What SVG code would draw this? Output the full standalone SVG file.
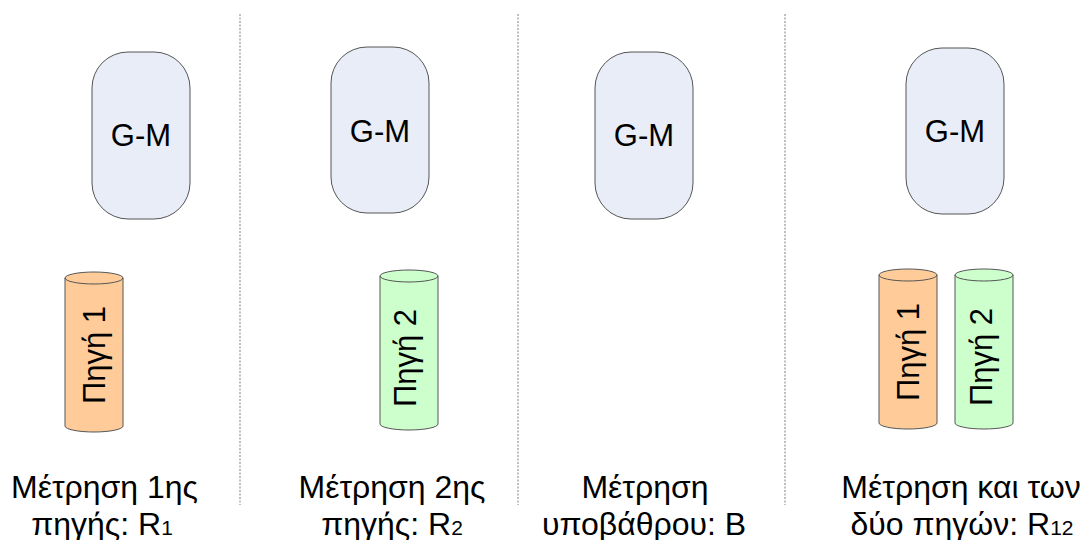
<svg xmlns="http://www.w3.org/2000/svg" width="1083" height="540" viewBox="0 0 1083 540">
<style>
.gm{fill:#e8edf7;stroke:#555;stroke-width:1}
.t{font-family:"Liberation Sans",Arial,sans-serif;fill:#000}
.sep{stroke:#aaa;stroke-width:1.5;stroke-dasharray:2 1.5}
.c1{fill:#ffcc99;stroke:#555;stroke-width:1}
.c2{fill:#ccffcc;stroke:#555;stroke-width:1}
</style>
<defs>
<g id="cyl">
<path d="M0,6 A29,6 0 0 1 58,6 L58,154 A29,6 0 0 1 0,154 Z"/>
<path d="M0,6 A29,6 0 0 0 58,6" fill="none"/>
</g>
</defs>
<g id="connectors"></g>
<g id="separators">
<line class="sep" x1="240" y1="14" x2="240" y2="505"/>
<line class="sep" x1="518" y1="14" x2="518" y2="505"/>
<line class="sep" x1="785" y1="14" x2="785" y2="505"/>
</g>
<g id="gm1"><rect class="gm" x="92" y="52" width="98" height="167" rx="36" ry="36"/><text class="t" x="141" y="146" font-size="31" text-anchor="middle">G-M</text></g>
<g id="gm2"><rect class="gm" x="331" y="47" width="98" height="166" rx="36" ry="36"/><text class="t" x="380" y="142" font-size="31" text-anchor="middle">G-M</text></g>
<g id="gm3"><rect class="gm" x="595" y="52" width="98" height="167" rx="36" ry="36"/><text class="t" x="644" y="146" font-size="31" text-anchor="middle">G-M</text></g>
<g id="gm4"><rect class="gm" x="906" y="48" width="98" height="166" rx="36" ry="36"/><text class="t" x="955" y="142" font-size="31" text-anchor="middle">G-M</text></g>
<g id="src1a"><use href="#cyl" class="c1" x="65" y="272"/><text class="t" font-size="31" text-anchor="middle" transform="translate(105,355) rotate(-90)">Πηγή 1</text></g>
<g id="src2a"><use href="#cyl" class="c2" x="380" y="270"/><text class="t" font-size="31" text-anchor="middle" transform="translate(416,358) rotate(-90)">Πηγή 2</text></g>
<g id="src1b"><use href="#cyl" class="c1" x="879" y="269"/><text class="t" font-size="31" text-anchor="middle" transform="translate(919,352) rotate(-90)">Πηγή 1</text></g>
<g id="src2b"><use href="#cyl" class="c2" x="955" y="269"/><text class="t" font-size="31" text-anchor="middle" transform="translate(992,357) rotate(-90)">Πηγή 2</text></g>
<g id="label1"><text class="t" font-size="32" text-anchor="middle"><tspan x="104.5" y="498">Μέτρηση 1ης</tspan><tspan x="102" y="535">πηγής: R<tspan font-size="21">1</tspan></tspan></text></g>
<g id="label2"><text class="t" font-size="32" text-anchor="middle"><tspan x="392" y="498">Μέτρηση 2ης</tspan><tspan x="392" y="535">πηγής: R<tspan font-size="21">2</tspan></tspan></text></g>
<g id="label3"><text class="t" font-size="32" text-anchor="middle"><tspan x="645" y="498">Μέτρηση</tspan><tspan x="644" y="535">υποβάθρου: B</tspan></text></g>
<g id="label4"><text class="t" font-size="32" text-anchor="middle"><tspan x="961" y="498">Μέτρηση και των</tspan><tspan x="962" y="535">δύο πηγών: R<tspan font-size="21">12</tspan></tspan></text></g>
</svg>
